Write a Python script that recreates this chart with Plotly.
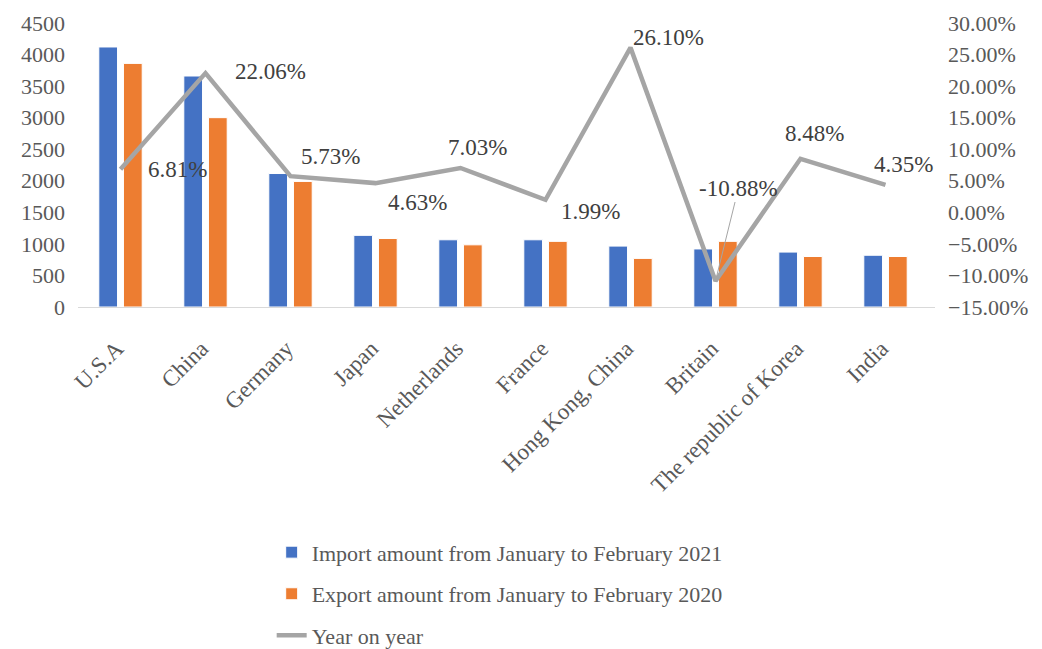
import plotly.graph_objects as go

categories = ["U.S.A", "China", "Germany", "Japan", "Netherlands", "France",
              "Hong Kong, China", "Britain", "The republic of Korea", "India"]
imports_2021 = [4120, 3660, 2115, 1135, 1065, 1065, 965, 920, 870, 820]
exports_2020 = [3860, 3000, 1990, 1085, 985, 1040, 770, 1040, 800, 800]
yoy = [0.0681, 0.2206, 0.0573, 0.0463, 0.0703, 0.0199, 0.2610, -0.1088, 0.0848, 0.0435]
yoy_labels = ["6.81%", "22.06%", "5.73%", "4.63%", "7.03%", "1.99%",
              "26.10%", "-10.88%", "8.48%", "4.35%"]
# label offsets in pixels (dx, dy) relative to the line point
label_offsets = [(57, 0), (65, 2), (40, 20), (42, -19), (17, 20), (45, -12),
                 (38, 10), None, (14, 25), (18, 20)]

FONT = "Liberation Serif"
GREY = "#595959"

fig = go.Figure()
fig.add_trace(go.Bar(x=categories, y=imports_2021, name="Import amount from January to February 2021",
                     marker=dict(color="#4472C4", line=dict(color="white", width=1)),
                     legendgroup="a"))
fig.add_trace(go.Bar(x=categories, y=exports_2020, name="Export amount from January to February 2020",
                     marker=dict(color="#ED7D31", line=dict(color="white", width=1)),
                     legendgroup="b"))
fig.add_trace(go.Scatter(x=categories, y=yoy, name="Year on year", yaxis="y2", mode="lines",
                         line=dict(color="#A5A5A5", width=4.5), legendgroup="c"))

for cat, v, lab, off in zip(categories, yoy, yoy_labels, label_offsets):
    if off is None:
        fig.add_annotation(x=cat, y=v, xref="x", yref="y2", text=lab, showarrow=True,
                           arrowhead=0, arrowwidth=1, arrowcolor="#A5A5A5",
                           ax=23, ay=-93, standoff=2,
                           font=dict(family=FONT, size=23, color="#404040"))
    else:
        fig.add_annotation(x=cat, y=v, xref="x", yref="y2", text=lab, showarrow=False,
                           xshift=off[0], yshift=off[1],
                           font=dict(family=FONT, size=23, color="#404040"))

# the page body adds an 8px offset, so the figure is 8px smaller than the window
fig.update_layout(
    width=1034, height=641,
    margin=dict(l=70, r=107, t=15, b=342, autoexpand=False),
    paper_bgcolor="white", plot_bgcolor="white",
    font=dict(family=FONT, size=21, color=GREY),
    barmode="group", bargap=0.42, bargroupgap=0.24,
    showlegend=True,
    legend=dict(x=0.226, y=-0.79, xanchor="left", yanchor="top",
                font=dict(family=FONT, size=22, color=GREY),
                tracegroupgap=10, bgcolor="rgba(0,0,0,0)"),
    xaxis=dict(tickangle=-45, showline=True, linecolor="#D9D9D9", linewidth=1,
               ticks="", showgrid=False, automargin=False,
               ticklabelstandoff=18, ticklabelshift=-4,
               tickfont=dict(family=FONT, size=23, color=GREY)),
    yaxis=dict(range=[0, 4500], dtick=500, showgrid=False, zeroline=False, automargin=False,
               showline=False, ticks="", ticklabelstandoff=12,
               tickfont=dict(family=FONT, size=22, color=GREY)),
    yaxis2=dict(range=[-0.15, 0.30], dtick=0.05, tickformat=".2%", overlaying="y",
                side="right", showgrid=False, zeroline=False, showline=False, ticks="",
                automargin=False, ticklabelstandoff=12,
                tickfont=dict(family=FONT, size=22, color=GREY)),
)

fig.write_html("out.html")
